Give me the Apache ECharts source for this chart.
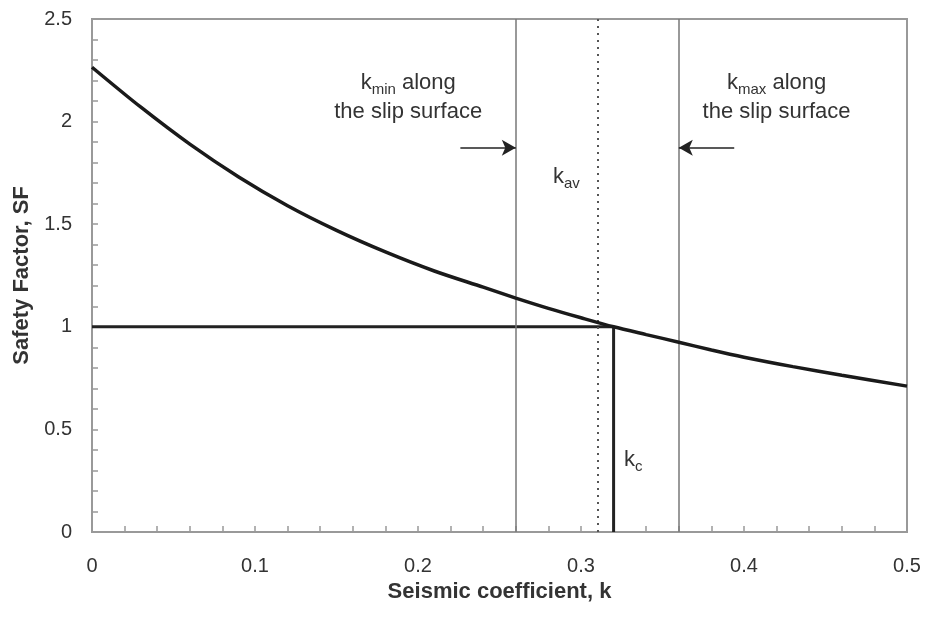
<!DOCTYPE html>
<html>
<head>
<meta charset="utf-8">
<script src="https://cdn.jsdelivr.net/npm/echarts@6/dist/echarts.min.js"></script>
<style>
  html, body { margin: 0; padding: 0; background: #fff; }
  #chart { width: 925px; height: 617px; }
</style>
</head>
<body>
<div id="chart"></div>
<script>
// seismic coefficient k vs safety factor SF
const kValues = [0, 0.03, 0.06, 0.09, 0.12, 0.15, 0.18, 0.21, 0.24, 0.26, 0.28, 0.30, 0.32, 0.34, 0.36, 0.38, 0.40, 0.43, 0.46, 0.50]
const sfValues = [2.265, 2.07, 1.89, 1.73, 1.59, 1.47, 1.365, 1.272, 1.193, 1.14, 1.09, 1.044, 1.000, 0.962, 0.925, 0.887, 0.852, 0.806, 0.764, 0.711]

const kMin = 0.26
const kMax = 0.36
const kAv = 0.31
const kC = 0.32
const sfCritical = 1

// arrows pointing at kmin / kmax lines
const arrowY = 1.873
const arrowMinFrom = 0.226
const arrowMaxFrom = 0.394

const xTicks = { min: 0, max: 0.5, interval: 0.1 }
const yTicks = { min: 0, max: 2.5, interval: 0.5 }

const font = 'Liberation Sans, Arial, sans-serif'
const textColor = '#333'

const chart = echarts.init(document.getElementById('chart'))

const rich = {
  k: { fontSize: 22, fontFamily: font, color: textColor, lineHeight: 29 },
  sub: { fontSize: 15, fontFamily: font, color: textColor, verticalAlign: 'bottom', padding: [8, 0, 0, 0], lineHeight: 29 }
}

function note (x, y, text) {
  return {
    coord: [x, y],
    symbolSize: 0,
    label: { show: true, position: 'inside', formatter: text, rich, align: 'center' }
  }
}

chart.setOption({
  animation: false,
  grid: {
    left: 92,
    right: 18,
    top: 19,
    bottom: 85,
    containLabel: false,
    outerBoundsMode: 'none',
    show: true,
    borderColor: '#999',
    borderWidth: 2
  },
  xAxis: {
    type: 'value',
    ...xTicks,
    name: 'Seismic coefficient, k',
    nameLocation: 'middle',
    nameGap: 48,
    nameTextStyle: { fontSize: 22, fontWeight: 'bold', fontFamily: font, color: textColor },
    axisLine: { lineStyle: { color: '#999', width: 2 } },
    axisTick: { inside: true, length: 6, lineStyle: { color: '#999', width: 1.5 } },
    minorTick: { show: true, splitNumber: 5, length: 6, lineStyle: { color: '#999', width: 1.5 } },
    axisLabel: { fontSize: 20, fontFamily: font, color: textColor, margin: 24 },
    splitLine: { show: false }
  },
  yAxis: {
    type: 'value',
    ...yTicks,
    name: 'Safety Factor, SF',
    nameLocation: 'middle',
    nameGap: 57,
    nameTextStyle: { fontSize: 22, fontWeight: 'bold', fontFamily: font, color: textColor },
    axisLine: { lineStyle: { color: '#999', width: 2 } },
    axisTick: { inside: true, length: 6, lineStyle: { color: '#999', width: 1.5 } },
    minorTick: { show: true, splitNumber: 5, length: 6, lineStyle: { color: '#999', width: 1.5 } },
    axisLabel: { fontSize: 20, fontFamily: font, color: textColor, margin: 20 },
    splitLine: { show: false }
  },
  series: [
    {
      name: 'SF',
      type: 'line',
      smooth: 0.3,
      showSymbol: false,
      z: 5,
      lineStyle: { color: '#1a1a1a', width: 3.5 },
      data: kValues.map((k, i) => [k, sfValues[i]]),
      markLine: {
        silent: true,
        symbol: 'none',
        label: { show: false },
        data: [
          { xAxis: kMin, lineStyle: { color: '#777', width: 1.5, type: 'solid' } },
          { xAxis: kMax, lineStyle: { color: '#777', width: 1.5, type: 'solid' } },
          { xAxis: kAv, lineStyle: { color: '#555', width: 2, type: [2, 5] } }
        ]
      }
    },
    {
      name: 'critical',
      type: 'line',
      showSymbol: false,
      z: 4,
      lineStyle: { color: '#222', width: 3 },
      data: [[0, sfCritical], [kC, sfCritical], [kC, 0]]
    },
    {
      name: 'notes',
      type: 'line',
      data: [],
      markLine: {
        silent: true,
        symbol: ['none', 'arrow'],
        symbolSize: [12, 14],
        label: { show: false },
        lineStyle: { color: '#222', width: 1.5, type: 'solid' },
        data: [
          [{ coord: [arrowMinFrom, arrowY] }, { coord: [kMin, arrowY] }],
          [{ coord: [arrowMaxFrom, arrowY] }, { coord: [kMax, arrowY] }]
        ]
      },
      markPoint: {
        silent: true,
        symbol: 'circle',
        data: [
          note(0.194, 2.118, '{k|k}{sub|min}{k| along}\n{k|the slip surface}'),
          note(0.420, 2.118, '{k|k}{sub|max}{k| along}\n{k|the slip surface}'),
          note(0.291, 1.73, '{k|k}{sub|av}'),
          note(0.332, 0.35, '{k|k}{sub|c}')
        ]
      }
    }
  ]
})
</script>
</body>
</html>
